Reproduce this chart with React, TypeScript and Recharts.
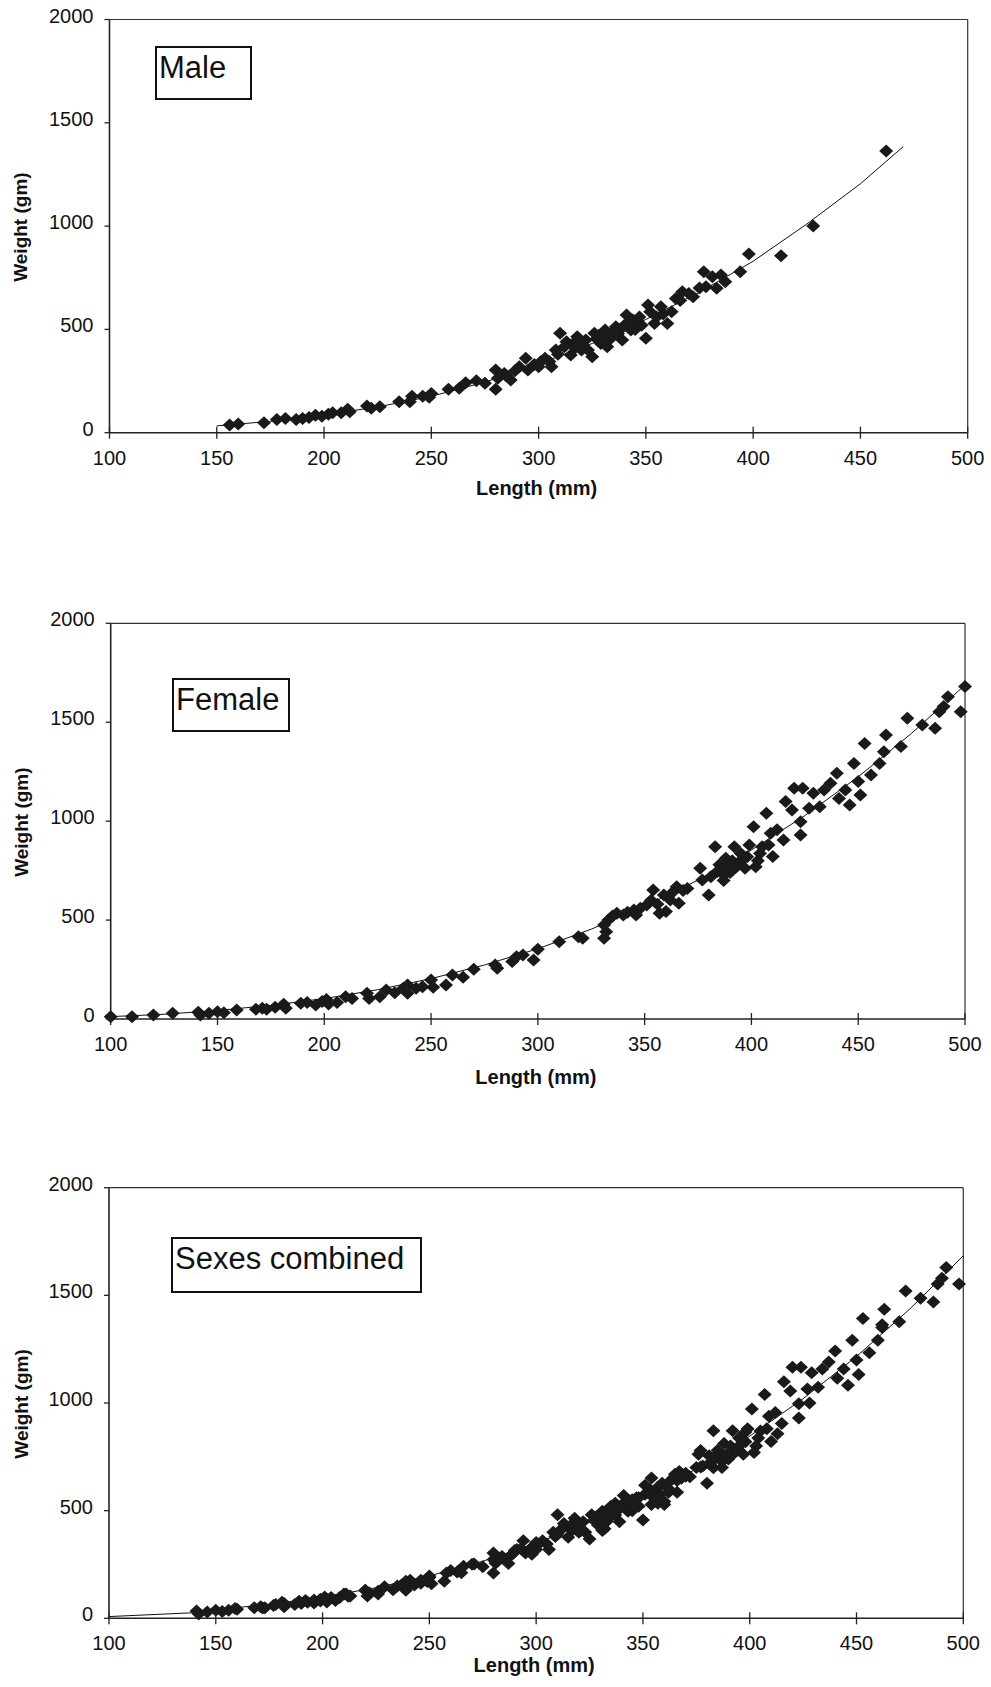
import { ReferenceLine, Scatter, ScatterChart, XAxis, YAxis } from 'recharts'

type Pt = [number, number]

const lengthTicks = [100, 150, 200, 250, 300, 350, 400, 450, 500]
const weightTicks = [0, 500, 1000, 1500, 2000]

// [length mm, weight gm]
const malePoints: Pt[] = [
  [156, 37], [160, 42], [172, 48], [178, 64], [182, 69], [187, 64], [190, 69], [193, 74], [196, 85],
  [199, 80], [202, 89], [204, 97], [208, 97], [211, 113], [212, 102], [220, 129], [222, 118], [226, 126],
  [235, 150], [241, 177], [240, 150], [246, 177], [250, 190], [249, 171], [258, 210], [263, 215],
  [266, 242], [271, 252], [275, 239], [280, 210], [280, 303], [281, 263], [284, 287], [285, 275],
  [287, 255], [289, 300], [291, 319], [294, 360], [295, 303], [298, 330], [300, 319], [301, 344],
  [305, 345], [306, 319], [308, 400], [310, 481], [312, 416], [313, 440], [315, 376], [316, 430],
  [318, 465], [320, 424], [320, 400], [322, 449], [323, 400], [325, 368], [326, 481], [328, 470],
  [329, 432], [331, 497], [332, 416], [333, 450], [334, 465], [336, 513], [337, 480], [339, 449],
  [340, 520], [341, 570], [343, 497], [345, 500], [346, 537], [347, 560], [350, 457], [351, 618],
  [352, 586], [354, 529], [357, 610], [360, 529], [362, 586], [364, 650], [367, 682], [370, 674],
  [372, 658], [377, 779], [378, 707], [381, 755], [383, 699], [385, 763], [387, 731], [394, 779],
  [398, 865], [413, 857], [428, 1000], [462, 1363],
  [303, 360], [309, 380], [317, 410], [327, 455], [330, 470], [335, 490], [338, 500], [342, 530],
  [344, 545], [348, 520], [355, 560], [358, 575], [366, 640], [375, 700],
]

const femalePoints: Pt[] = [
  [100, 12], [110, 12], [120, 20], [129, 29], [141, 34], [142, 20], [146, 29], [150, 37], [153, 32],
  [159, 45], [168, 49], [171, 54], [173, 49], [177, 59], [181, 74], [182, 54], [189, 79], [192, 83],
  [196, 71], [199, 88], [201, 99], [202, 76], [206, 83], [210, 113], [213, 104], [220, 130], [221, 104],
  [226, 113], [229, 147], [233, 133], [237, 155], [239, 172], [239, 130], [243, 155], [246, 163],
  [250, 197], [251, 160], [257, 172], [260, 222], [265, 211], [270, 251], [280, 273], [281, 256],
  [288, 290], [290, 315], [293, 323], [298, 298], [300, 352], [310, 391], [319, 416], [321, 408],
  [331, 475], [331, 408], [332, 441], [333, 500], [337, 534], [340, 526], [345, 551], [346, 526],
  [351, 576], [354, 652], [357, 534], [359, 627], [360, 543], [362, 602], [365, 669], [366, 585],
  [370, 660], [376, 762], [377, 703], [380, 627], [381, 719], [383, 871], [387, 728], [388, 812],
  [392, 871], [393, 770], [395, 837], [397, 762], [399, 880], [401, 972], [402, 770], [404, 837],
  [407, 1040], [409, 939], [410, 821], [412, 956], [415, 905], [416, 1099], [419, 1056], [420, 1166],
  [423, 997], [423, 930], [424, 1166], [427, 1065], [429, 1141], [432, 1073], [434, 1158], [437, 1191],
  [440, 1242], [441, 1115], [444, 1158], [446, 1082], [448, 1292], [450, 1200], [451, 1132], [453, 1393],
  [456, 1233], [460, 1292], [462, 1351], [463, 1436], [470, 1377], [473, 1520], [480, 1486], [486, 1469],
  [488, 1553], [490, 1579], [492, 1629], [498, 1553], [500, 1680],
  [335, 520], [342, 540], [348, 560], [353, 600], [356, 580], [363, 640], [368, 650], [384, 745],
  [385, 780], [387, 700], [389, 760], [390, 740], [391, 800], [394, 790], [396, 810], [398, 820],
  [403, 800], [405, 870], [408, 880],
]

// combined panel shows both sexes from 140 mm up
const combinedPoints: Pt[] = [...malePoints, ...femalePoints].filter(([x]) => x >= 140 && x < 500)

// fitted curves
const maleTrend: Pt[] = [
  [150, 33], [175, 55], [200, 86], [225, 125], [250, 176], [275, 245], [300, 332], [325, 432],
  [350, 548], [375, 680], [400, 830], [425, 1010], [450, 1205], [470, 1385],
]
const femaleTrend: Pt[] = [
  [100, 12], [125, 24], [150, 43], [175, 69], [200, 103], [225, 148], [250, 204], [275, 273],
  [300, 355], [325, 454], [350, 569], [375, 702], [400, 854], [425, 1028], [450, 1224], [475, 1444],
  [500, 1688],
]
const combinedTrend: Pt[] = [
  [100, 8], [140, 26], [150, 40], [175, 65], [200, 98], [225, 142], [250, 197], [275, 265],
  [300, 348], [325, 446], [350, 561], [375, 694], [400, 846], [425, 1020], [450, 1216], [475, 1437],
  [500, 1684],
]

const FONT = '"Liberation Sans", Arial, Helvetica, sans-serif'
const INK = '#1a1a1a'

const toRows = (pts: Pt[]) => pts.map(([x, y]) => ({ x, y }))

function Diamond(props: any) {
  const { cx, cy } = props
  if (cx == null || cy == null) return <g />
  return <polygon points={`${cx},${cy - 6.5} ${cx + 7},${cy} ${cx},${cy + 6.5} ${cx - 7},${cy}`} fill={INK} />
}

function XTick({ x, y, payload }: any) {
  return (
    <g>
      <line x1={x} y1={y - 6} x2={x} y2={y + 6} stroke="#222" strokeWidth={1.3} />
      <text x={x} y={y + 32} textAnchor="middle" fontSize={20} fontFamily={FONT} fill="#111">
        {payload.value}
      </text>
    </g>
  )
}

function YTick({ x, y, payload }: any) {
  return (
    <g>
      <line x1={x - 5} y1={y} x2={x} y2={y} stroke="#222" strokeWidth={1.3} />
      <text x={x - 16} y={y + 3} textAnchor="end" fontSize={20} fontFamily={FONT} fill="#111">
        {payload.value}
      </text>
    </g>
  )
}

interface PanelProps {
  top: number
  height: number
  margin: { top: number; right: number; bottom: number; left: number }
  yAxisWidth: number
  points: Pt[]
  trend: Pt[]
  xTitleDy: number
  yTitleX: number
}

function Panel({ top, height, margin, yAxisWidth, points, trend, xTitleDy, yTitleX }: PanelProps) {
  return (
    <div style={{ position: 'absolute', left: 0, top }}>
      <ScatterChart width={991} height={height} margin={margin}>
        <XAxis
          type="number"
          dataKey="x"
          domain={[100, 500]}
          ticks={lengthTicks}
          height={60}
          tickSize={0}
          tickMargin={0}
          tickLine={false}
          tick={XTick}
          axisLine={{ stroke: '#222', strokeWidth: 1.6 }}
          label={(p: any) => {
            const vb = p.viewBox
            return (
              <text
                x={vb.x + vb.width / 2 - 2}
                y={vb.y + xTitleDy}
                textAnchor="middle"
                fontSize={20}
                fontWeight="bold"
                fontFamily={FONT}
                fill="#111"
              >
                Length (mm)
              </text>
            )
          }}
        />
        <YAxis
          type="number"
          dataKey="y"
          domain={[0, 2000]}
          ticks={weightTicks}
          width={yAxisWidth}
          tickSize={0}
          tickMargin={0}
          tickLine={false}
          tick={YTick}
          axisLine={{ stroke: '#222', strokeWidth: 1.6 }}
          label={(p: any) => {
            const vb = p.viewBox
            const cy = vb.y + vb.height / 2 + 1
            return (
              <text
                x={yTitleX}
                y={cy}
                transform={`rotate(-90, ${yTitleX}, ${cy})`}
                textAnchor="middle"
                fontSize={19}
                fontWeight="bold"
                fontFamily={FONT}
                fill="#111"
              >
                Weight (gm)
              </text>
            )
          }}
        />
        <ReferenceLine y={2000} stroke="#333" strokeWidth={1.2} ifOverflow="visible" />
        <ReferenceLine x={500} stroke="#333" strokeWidth={1.2} ifOverflow="visible" />
        <Scatter
          data={toRows(trend)}
          line={{ stroke: '#111', strokeWidth: 1 }}
          shape={() => <g />}
          legendType="none"
          isAnimationActive={false}
        />
        <Scatter data={toRows(points)} shape={Diamond} legendType="none" isAnimationActive={false} />
      </ScatterChart>
    </div>
  )
}

function Tag({ left, top, width, height, text }: { left: number; top: number; width: number; height: number; text: string }) {
  return (
    <div
      style={{
        position: 'absolute',
        left,
        top,
        width,
        height,
        boxSizing: 'border-box',
        border: '2px solid #111',
        background: '#fff',
        fontFamily: FONT,
        fontSize: 31,
        lineHeight: '31px',
        paddingTop: 4,
        paddingLeft: 2,
        color: '#111',
        whiteSpace: 'nowrap',
      }}
    >
      {text}
    </div>
  )
}

export default function App() {
  return (
    <div style={{ position: 'absolute', left: 0, top: 0, width: 991, height: 1687, background: '#fff' }}>
      <Panel
        top={0}
        height={520}
        margin={{ top: 19.5, right: 23.3, bottom: 27.3, left: 0 }}
        yAxisWidth={109.5}
        points={malePoints}
        trend={maleTrend}
        xTitleDy={62}
        yTitleX={27}
      />
      <Panel
        top={560}
        height={540}
        margin={{ top: 63.3, right: 26, bottom: 21, left: 0 }}
        yAxisWidth={110.7}
        points={femalePoints}
        trend={femaleTrend}
        xTitleDy={65}
        yTitleX={28.5}
      />
      <Panel
        top={1120}
        height={567}
        margin={{ top: 67.7, right: 27.7, bottom: 8.7, left: 0 }}
        yAxisWidth={109}
        points={combinedPoints}
        trend={combinedTrend}
        xTitleDy={54}
        yTitleX={27.5}
      />
      <Tag left={155} top={46} width={97} height={54} text="Male" />
      <Tag left={172} top={678} width={118} height={54} text="Female" />
      <Tag left={171} top={1237} width={251} height={56} text="Sexes combined" />
    </div>
  )
}
